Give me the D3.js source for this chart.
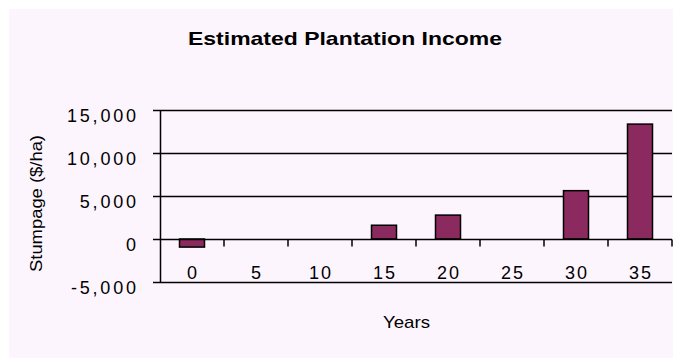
<!DOCTYPE html>
<html>
<head>
<meta charset="utf-8">
<script src="https://cdn.jsdelivr.net/npm/d3@7"></script>
<style>
  html, body { margin: 0; padding: 0; background: #ffffff; }
  svg { display: block; }
  text { font-family: "Liberation Sans", Arial, sans-serif; fill: #000; }
</style>
</head>
<body>
<svg id="chart" width="673" height="358"></svg>
<script>
const title = "Estimated Plantation Income";
const xTitle = "Years";
const yTitle = "Stumpage ($/ha)";
const categories = ["0", "5", "10", "15", "20", "25", "30", "35"];
const values = [-940, 0, 0, 1600, 2780, 0, 5620, 13360];
const yTicks = [-5000, 0, 5000, 10000, 15000];

const svg = d3.select("#chart");
const W = 673, H = 358;
const plot = { left: 160, right: 672, top: 110, bottom: 282 };

svg.append("rect").attr("x", 9).attr("y", 9).attr("width", W - 9).attr("height", H - 9)
  .attr("fill", "#fdf5fd");

const x = d3.scaleBand().domain(categories).range([plot.left, plot.right]).padding(0);
const y = d3.scaleLinear().domain([-5000, 15000]).range([plot.bottom, plot.top]);
const fmt = d => d3.format(",")(d).replace("\u2212", "-");

// gridlines (including -5000 bottom line)
svg.append("g").selectAll("line").data(yTicks.filter(d => d !== 0)).join("line")
  .attr("x1", plot.left).attr("x2", plot.right)
  .attr("y1", d => Math.round(y(d)) + 0.5).attr("y2", d => Math.round(y(d)) + 0.5)
  .attr("stroke", "#000").attr("stroke-width", 1.5);

// y axis
const yAxis = d3.axisLeft(y).tickValues(yTicks).tickSize(7).tickPadding(0)
  .tickFormat(fmt);
const gy = svg.append("g").attr("transform", `translate(${plot.left},0)`).call(yAxis);
gy.select(".domain").remove();
gy.selectAll(".tick line").attr("stroke", "#000").attr("stroke-width", 1.5);
gy.selectAll(".tick text")
  .attr("x", -24 + 2.8).attr("dy", null).attr("y", 11)
  .style("font-size", "18px").style("letter-spacing", "2.8px")
  .attr("text-anchor", "end").attr("font-family", null);
svg.append("line").attr("x1", plot.left + 0.5).attr("x2", plot.left + 0.5)
  .attr("y1", plot.top).attr("y2", plot.bottom + 1)
  .attr("stroke", "#000").attr("stroke-width", 1.5);

// bars
const bw = 25;
svg.append("g").selectAll("rect").data(values.map((v, i) => ({ c: categories[i], v })).filter(d => d.v !== 0))
  .join("rect")
  .attr("x", d => x(d.c) + x.bandwidth() / 2 - bw / 2)
  .attr("width", bw)
  .attr("y", d => y(Math.max(0, d.v)))
  .attr("height", d => Math.abs(y(d.v) - y(0)))
  .attr("fill", "#8b2a5e").attr("stroke", "#000").attr("stroke-width", 1.5);

// x axis at zero
const y0 = Math.round(y(0)) + 0.5;
svg.append("line").attr("x1", plot.left).attr("x2", plot.right)
  .attr("y1", y0).attr("y2", y0).attr("stroke", "#000").attr("stroke-width", 1.5);
svg.append("g").selectAll("line").data(categories).join("line")
  .attr("x1", d => x(d) + x.bandwidth()).attr("x2", d => x(d) + x.bandwidth())
  .attr("y1", y0).attr("y2", y0 + 7)
  .attr("stroke", "#000").attr("stroke-width", 1.5);
svg.append("g").selectAll("text").data(categories).join("text")
  .attr("x", d => x(d) + x.bandwidth() / 2 + 1)
  .attr("y", 278.5)
  .attr("text-anchor", "middle")
  .style("font-size", "18px").style("letter-spacing", "2px")
  .text(d => d);

// titles
svg.append("text").attr("x", 188).attr("y", 45)
  .attr("textLength", 314).attr("lengthAdjust", "spacingAndGlyphs")
  .style("font-size", "19px").style("font-weight", "bold").text(title);
svg.append("text").attr("x", 383).attr("y", 328)
  .attr("textLength", 47).attr("lengthAdjust", "spacingAndGlyphs")
  .style("font-size", "17px").text(xTitle);
svg.append("text").attr("transform", "translate(42,272) rotate(-90)")
  .attr("x", 0).attr("y", 0)
  .attr("textLength", 137).attr("lengthAdjust", "spacingAndGlyphs")
  .style("font-size", "16px").text(yTitle);
</script>
</body>
</html>
